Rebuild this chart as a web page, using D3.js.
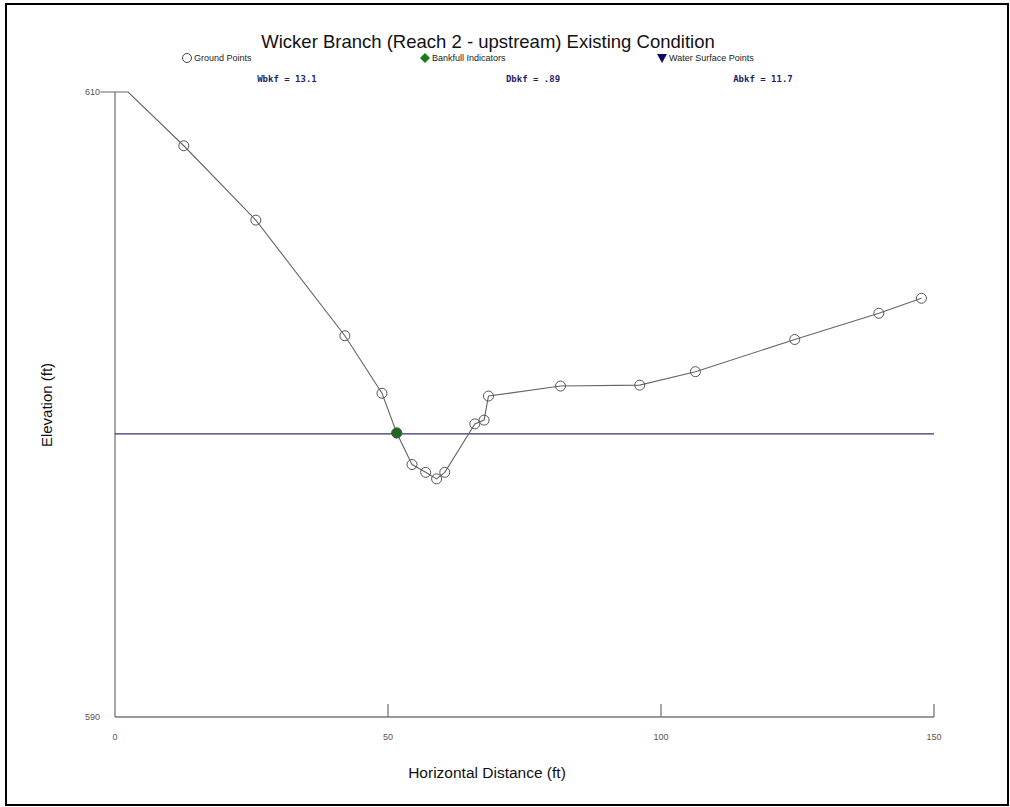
<!DOCTYPE html>
<html><head><meta charset="utf-8">
<script src="https://cdn.jsdelivr.net/npm/d3@7"></script>
<style>body{margin:0;background:#fff;}svg{display:block;}</style>
</head><body>
<svg id="c" width="1010" height="807"></svg>
<script>
// Data
const title = "Wicker Branch (Reach 2 - upstream) Existing Condition";
const legendLabels = ["Ground Points", "Bankfull Indicators", "Water Surface Points"];
const statLabels = ["Wbkf = 13.1", "Dbkf = .89", "Abkf = 11.7"];
const xTicks = [0, 50, 100, 150];
const yTicks = [590, 610];
// ground profile (first two points are the unmarked upper end)
const groundX = [-2.7, 2.4, 12.6, 25.8, 42.1, 48.9, 51.6, 54.4, 56.9, 58.9, 60.4, 65.9, 67.6, 68.4, 81.6, 96.1, 106.3, 124.5, 139.9, 147.7];
const groundY = [610, 610, 608.28, 605.9, 602.2, 600.36, 599.09, 598.08, 597.83, 597.62, 597.83, 599.38, 599.5, 600.27, 600.59, 600.62, 601.05, 602.08, 602.92, 603.4];
const groundMarked = [false, false, true, true, true, true, true, true, true, true, true, true, true, true, true, true, true, true, true, true];
const bankfullX = [51.6];
const bankfullY = [599.09];
const waterX = [0, 150];
const waterY = [599.06, 599.06];

const svg = d3.select("#c");
svg.append("rect").attr("x", 6).attr("y", 4).attr("width", 1002).attr("height", 801)
  .attr("fill", "#fff").attr("stroke", "#000").attr("stroke-width", 2);

const x = d3.scaleLinear().domain([0, 150]).range([115, 934]);
const y = d3.scaleLinear().domain([590, 610]).range([717, 92]);

const font = "Liberation Sans, Arial, sans-serif";

// title
svg.append("text").attr("x", 488).attr("y", 48).attr("text-anchor", "middle")
  .attr("font-family", font).attr("font-size", 18.5).attr("fill", "#111").text(title);

// legend
const lg = svg.append("g").attr("font-family", font).attr("font-size", 9).attr("fill", "#222");
const legX = [187, 425, 662];
lg.append("circle").attr("cx", legX[0]).attr("cy", 58).attr("r", 4.5).attr("fill", "#fff").attr("stroke", "#444").attr("stroke-width", 1);
lg.append("path").attr("d", "M0,-5 L5,0 L0,5 L-5,0 Z").attr("transform", `translate(${legX[1]},58)`).attr("fill", "#1c7a1c");
lg.append("path").attr("d", "M-5,-4 L5,-4 L0,5 Z").attr("transform", `translate(${legX[2]},58)`).attr("fill", "#0b0b6e");
legendLabels.forEach((t, i) => {
  lg.append("text").attr("x", legX[i] + 7).attr("y", 61).text(t);
});

// stats
const statX = [287, 533, 763];
statLabels.forEach((t, i) => {
  svg.append("text").attr("x", statX[i]).attr("y", 82).attr("text-anchor", "middle")
    .attr("font-family", "DejaVu Sans Mono, monospace").attr("font-weight", "bold").attr("font-size", 9)
    .attr("fill", "#1f1f66").text(t);
});

// axes
const axisColor = "#777";
svg.append("line").attr("x1", x(0)).attr("x2", x(0)).attr("y1", y(610)).attr("y2", y(590)).attr("stroke", axisColor).attr("stroke-width", 1.3);
svg.append("line").attr("x1", x(0)).attr("x2", x(150)).attr("y1", y(590)).attr("y2", y(590)).attr("stroke", axisColor).attr("stroke-width", 1.3);
xTicks.filter(v => v > 0).forEach(v => {
  svg.append("line").attr("x1", x(v)).attr("x2", x(v)).attr("y1", y(590)).attr("y2", y(590) - 13).attr("stroke", axisColor).attr("stroke-width", 1.3);
});
xTicks.forEach(v => {
  svg.append("text").attr("x", x(v)).attr("y", 740).attr("text-anchor", "middle")
    .attr("font-family", font).attr("font-size", 9).attr("fill", "#555").text(v);
});
yTicks.forEach(v => {
  svg.append("text").attr("x", 100).attr("y", y(v) + 3).attr("text-anchor", "end")
    .attr("font-family", font).attr("font-size", 9).attr("fill", "#555").text(v);
});

svg.append("text").attr("x", 487).attr("y", 778).attr("text-anchor", "middle")
  .attr("font-family", font).attr("font-size", 15.5).attr("fill", "#111").text("Horizontal Distance (ft)");
svg.append("text").attr("transform", "translate(52,405) rotate(-90)").attr("text-anchor", "middle")
  .attr("font-family", font).attr("font-size", 15).attr("fill", "#111").text("Elevation (ft)");

// water surface line
svg.append("path").datum(waterX.map((v, i) => [v, waterY[i]]))
  .attr("d", d3.line().x(d => x(d[0])).y(d => y(d[1])))
  .attr("fill", "none").attr("stroke", "#33336e").attr("stroke-width", 1.2);

// ground line
const ground = groundX.map((v, i) => ({x: v, y: groundY[i], m: groundMarked[i]}));
svg.append("path").datum(ground)
  .attr("d", d3.line().x(d => x(d.x)).y(d => y(d.y)))
  .attr("fill", "none").attr("stroke", "#666").attr("stroke-width", 1.1);

// bankfull
svg.selectAll(".bk").data(bankfullX.map((v, i) => [v, bankfullY[i]])).enter()
  .append("circle").attr("cx", d => x(d[0])).attr("cy", d => y(d[1])).attr("r", 5)
  .attr("fill", "#1c6e1c").attr("stroke", "#1c5a1c").attr("stroke-width", 0.8);

// ground markers
svg.selectAll(".gp").data(ground.filter(d => d.m)).enter()
  .append("circle").attr("cx", d => x(d.x)).attr("cy", d => y(d.y)).attr("r", 5)
  .attr("fill", "none").attr("stroke", "#555").attr("stroke-width", 1);
</script>
</body></html>
